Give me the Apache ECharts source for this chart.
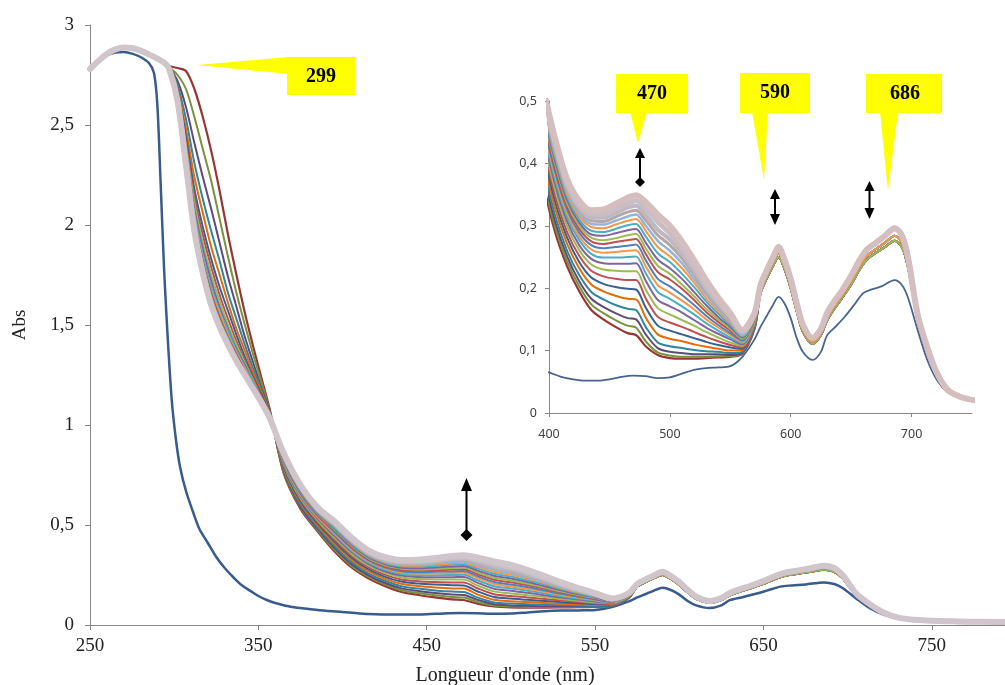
<!DOCTYPE html>
<html><head><meta charset="utf-8">
<script src="https://cdn.jsdelivr.net/npm/echarts@6/dist/echarts.min.js"></script>
<style>html,body{margin:0;padding:0;background:#fff;overflow:hidden}#c{width:1005px;height:685px}</style>
</head><body><div id="c"></div>
<script>
// ---------- data ----------
const mainXTicks = [250, 350, 450, 550, 650, 750];
const insetXTicks = [400, 500, 600, 700];

// initial spectrum (dark blue)
const blueNm = [250,255,260,265,270,275,280,285,288,290,292,294,296,298.5,301,303.5,307,311,315,320,325,330,335,340,345,350,355,360,370,380,390,400,410,420,430,440,450,460,470,480,490,500,510,520,530,540,550,560,570,575,580,585,590,595,600,605,610,618,625,630,638,645,652,660,667,675,686,692,697,705,713,721,730,740,750,770,800];
const blueAbs = [2.78,2.82,2.848,2.862,2.865,2.857,2.84,2.81,2.76,2.6,2.2,1.78,1.46,1.13,0.93,0.79,0.67,0.57,0.48,0.41,0.34,0.285,0.24,0.2,0.172,0.145,0.125,0.11,0.09,0.08,0.071,0.065,0.058,0.054,0.052,0.052,0.054,0.058,0.06,0.059,0.056,0.057,0.063,0.069,0.072,0.073,0.075,0.09,0.118,0.138,0.155,0.172,0.186,0.175,0.152,0.12,0.098,0.085,0.098,0.124,0.14,0.155,0.172,0.192,0.198,0.203,0.213,0.205,0.185,0.133,0.085,0.053,0.033,0.024,0.02,0.016,0.014];

// titration spectra: wavelength segments
const headNm = [250,255,260,265,270,275,280,285,290,294];
const headAbs = [2.78,2.82,2.855,2.878,2.888,2.885,2.872,2.853,2.832,2.812];
const uvNm = [297,302,307,312,317,322,327,332,337,342,347,352,357];
const visNm = [365,375,385,395,405,415,425,435,445,455,465,472,480,490,500,510,520,530,540,550,560,570];
const tailNm = [575,580,585,590,595,600,605,610,618,625,630,635,642,650,657,663,670,678,686,692,697,705,713,721,730,740,750,765,780,800];

// per-spectrum values on uvNm + visNm
const curve00 = [2.795,2.785,2.77,2.68,2.54,2.37,2.17,1.95,1.75,1.56,1.39,1.23,1.07, .76,.58,.47,.37,.29,.235,.195,.165,.15,.138,.128,.125,.107,.093,.088,.087,.087,.088,.089,.090,.095,.135];
const curve01 = [2.79,2.75,2.68,2.54,2.38,2.22,2.03,1.84,1.66,1.50,1.35,1.21,1.06, .765,.586,.476,.378,.298,.243,.203,.174,.160,.149,.140,.137,.115,.097,.092,.090,.090,.090,.091,.091,.096,.135];
const curve02 = [2.79,2.72,2.59,2.41,2.24,2.08,1.91,1.74,1.59,1.44,1.31,1.18,1.06, .771,.593,.483,.387,.307,.251,.211,.183,.170,.160,.152,.150,.126,.104,.098,.096,.094,.094,.094,.093,.097,.136];
const curve03 = [2.79,2.70,2.53,2.31,2.13,1.97,1.82,1.66,1.53,1.40,1.28,1.17,1.05, .778,.602,.492,.397,.317,.260,.221,.194,.182,.173,.167,.165,.138,.113,.107,.104,.101,.099,.098,.096,.098,.137];
const curve04 = [2.79,2.68,2.48,2.24,2.06,1.89,1.75,1.61,1.48,1.37,1.26,1.16,1.05, .785,.611,.501,.408,.328,.271,.232,.206,.195,.188,.183,.182,.153,.126,.119,.115,.110,.106,.103,.100,.101,.139];
const curve05 = [2.78,2.67,2.44,2.18,1.99,1.83,1.69,1.57,1.45,1.34,1.24,1.15,1.04, .793,.619,.509,.419,.339,.281,.242,.217,.207,.202,.199,.198,.169,.140,.132,.126,.120,.114,.109,.105,.103,.140];
const curve06 = [2.78,2.66,2.41,2.14,1.95,1.79,1.65,1.53,1.42,1.32,1.23,1.14,1.04, .799,.627,.517,.429,.349,.290,.252,.228,.219,.215,.213,.213,.184,.154,.145,.138,.130,.122,.115,.109,.105,.142];
const curve07 = [2.78,2.65,2.39,2.11,1.91,1.75,1.62,1.50,1.40,1.31,1.22,1.13,1.04, .806,.635,.525,.438,.358,.299,.261,.238,.230,.228,.227,.227,.198,.168,.158,.149,.140,.130,.121,.113,.108,.143];
const curve08 = [2.78,2.65,2.37,2.08,1.88,1.72,1.59,1.48,1.38,1.30,1.21,1.13,1.04, .811,.642,.532,.447,.367,.307,.269,.247,.240,.239,.239,.240,.212,.181,.171,.161,.149,.137,.127,.118,.110,.145];
const curve09 = [2.78,2.64,2.36,2.06,1.85,1.69,1.57,1.47,1.37,1.29,1.21,1.12,1.04, .816,.648,.538,.455,.375,.314,.277,.255,.249,.249,.250,.251,.224,.194,.183,.171,.158,.144,.132,.121,.112,.146];
const curve10 = [2.78,2.64,2.35,2.04,1.83,1.67,1.56,1.45,1.36,1.28,1.20,1.12,1.03, .821,.653,.543,.461,.381,.320,.283,.262,.257,.258,.260,.261,.235,.205,.193,.180,.166,.150,.137,.125,.114,.147];
const curve11 = [2.78,2.63,2.34,2.02,1.82,1.66,1.54,1.44,1.35,1.27,1.20,1.12,1.03, .825,.658,.548,.467,.387,.326,.289,.269,.264,.266,.268,.270,.245,.215,.203,.189,.173,.156,.141,.128,.116,.149];
const curve12 = [2.78,2.63,2.33,2.01,1.81,1.65,1.53,1.43,1.35,1.27,1.19,1.12,1.03, .829,.663,.553,.473,.393,.331,.295,.275,.271,.274,.277,.279,.255,.226,.214,.199,.181,.162,.146,.132,.118,.150];
const curve13 = [2.78,2.63,2.32,2.00,1.80,1.64,1.52,1.43,1.34,1.26,1.19,1.12,1.03, .832,.667,.557,.479,.399,.336,.300,.281,.277,.280,.285,.287,.264,.236,.223,.206,.187,.167,.150,.135,.119,.151];
const curve14 = [2.78,2.63,2.32,2.00,1.79,1.63,1.51,1.42,1.34,1.26,1.19,1.11,1.03, .836,.671,.561,.484,.404,.341,.305,.286,.284,.288,.293,.295,.273,.246,.232,.215,.194,.173,.154,.138,.121,.152];
const curve15 = [2.78,2.62,2.31,1.99,1.78,1.62,1.51,1.41,1.33,1.26,1.19,1.11,1.03, .840,.675,.565,.489,.409,.346,.310,.292,.290,.295,.301,.303,.283,.256,.242,.223,.202,.179,.159,.141,.123,.153];
const curve16 = [2.78,2.62,2.31,1.98,1.77,1.61,1.50,1.41,1.33,1.26,1.18,1.11,1.03, .843,.680,.570,.495,.415,.351,.315,.298,.296,.302,.308,.311,.292,.266,.251,.232,.209,.184,.163,.144,.124,.154];
const curve17 = [2.78,2.62,2.30,1.98,1.77,1.61,1.50,1.41,1.32,1.25,1.18,1.11,1.03, .846,.683,.573,.499,.419,.356,.320,.303,.302,.308,.315,.318,.300,.276,.260,.240,.215,.190,.167,.147,.126,.155];
const curve18 = [2.78,2.62,2.30,1.97,1.76,1.60,1.49,1.40,1.32,1.25,1.18,1.11,1.03, .849,.687,.577,.504,.424,.360,.325,.308,.307,.314,.322,.325,.309,.285,.269,.248,.222,.195,.171,.150,.128,.156];
const curve19 = [2.78,2.62,2.30,1.97,1.76,1.60,1.49,1.40,1.32,1.25,1.18,1.11,1.03, .852,.691,.581,.509,.429,.364,.329,.313,.313,.320,.329,.332,.317,.294,.278,.255,.228,.200,.175,.153,.129,.157];
const curve20 = [2.78,2.62,2.30,1.97,1.76,1.60,1.49,1.40,1.32,1.25,1.18,1.11,1.03, .856,.695,.585,.514,.434,.369,.334,.319,.319,.327,.336,.340,.327,.306,.288,.265,.236,.206,.180,.156,.131,.159];
const curve21 = [2.78,2.62,2.30,1.97,1.76,1.60,1.49,1.40,1.32,1.25,1.18,1.11,1.03, .86,.70,.59,.52,.44,.375,.34,.325,.326,.335,.345,.349,.338,.318,.30,.275,.245,.213,.185,.16,.133,.16];

// tails (575-800 nm): early, middle and late spectra
const tailLow  = [.192,.215,.234,.250,.230,.200,.163,.131,.111,.125,.148,.164,.183,.206,.230,.246,.256,.266,.276,.266,.234,.148,.097,.059,.034,.024,.020,.017,.015,.014];
const tailMid  = [.197,.220,.240,.256,.236,.206,.168,.135,.114,.128,.152,.168,.187,.211,.235,.252,.262,.273,.284,.273,.240,.152,.100,.061,.035,.025,.020,.017,.015,.014];
const tailHigh = [.205,.228,.248,.266,.245,.215,.176,.142,.120,.135,.160,.176,.195,.220,.245,.262,.272,.284,.296,.285,.250,.158,.105,.064,.037,.026,.021,.018,.016,.015];

// ---------- styles ----------
const curves = [curve00,curve01,curve02,curve03,curve04,curve05,curve06,curve07,curve08,curve09,curve10,curve11,curve12,curve13,curve14,curve15,curve16,curve17,curve18,curve19,curve20,curve21];
const curveTails = [tailLow,tailLow,tailLow,tailLow,tailLow,tailLow,tailLow,tailLow,tailMid,tailMid,tailMid,tailMid,tailMid,tailMid,tailMid,tailMid,tailMid,tailHigh,tailHigh,tailHigh,tailHigh,tailHigh];
const curveColorsMain = ['#953735','#77933C','#604A7B','#31859C','#E46C0A','#376092','#C0504D','#9BBB59','#8064A2','#4BACC6','#F79646','#4F81BD','#C0504D','#9BBB59','#8064A2','#4BACC6','#F79646','#95B3D7','#B4AEB4','#BEB8BE','#C8C1C7','#CFC5CA'];
const curveColorsInset = ['#953735','#77933C','#604A7B','#31859C','#E46C0A','#376092','#C0504D','#9BBB59','#8064A2','#4BACC6','#F79646','#4F81BD','#C0504D','#9BBB59','#8064A2','#4BACC6','#F79646','#95B3D7','#B5A6A8','#C0B8C0','#CABDC3','#D5BEBF'];
const curveWidths = [2.2,2,2,2,2,2,2,2,2,2,2,2,2,2,2,2,2,2.5,3,4,5,6];

const titrNm = headNm.concat(uvNm, visNm, tailNm);
const series = [];
function addLine(xs, ys, color, width, gi) {
  series.push({
    type: 'line', xAxisIndex: gi, yAxisIndex: gi,
    data: xs.map((x, i) => [x, ys[i]]),
    showSymbol: false, symbol: 'none', smooth: 0.3, clip: true, silent: true,
    lineStyle: { color: color, width: width, cap: 'round', join: 'round' }
  });
}
[0, 1].forEach(gi => {
  addLine(blueNm, blueAbs, gi === 0 ? '#375B8C' : '#46648E', gi === 0 ? 2.5 : 1.8, gi);
  const cols = gi === 0 ? curveColorsMain : curveColorsInset;
  curves.forEach((c, k) => {
    addLine(titrNm, headAbs.concat(c, curveTails[k]), cols[k], curveWidths[k], gi);
  });
});

const fmt = v => String(+Number(v).toFixed(2)).replace('.', ',');
const axisGray = '#868686';
const serif = '"Liberation Serif", "Times New Roman", serif';

// ---------- annotations ----------
const yellow = '#FFFF00';
function box(x, y, w, h) { return { type: 'rect', z: 100, shape: { x, y, width: w, height: h }, style: { fill: yellow } }; }
function tri(pts) { return { type: 'polygon', z: 100, shape: { points: pts }, style: { fill: yellow } }; }
function label(t, x, y) { return { type: 'text', z: 101, style: { text: t, x, y, align: 'center', verticalAlign: 'middle', font: 'bold 20px ' + serif, fill: '#000' } }; }
function head(pts) { return { type: 'polygon', z: 102, shape: { points: pts }, style: { fill: '#000' } }; }
function shaft(x, y1, y2) { return { type: 'line', z: 102, shape: { x1: x, y1, x2: x, y2 }, style: { stroke: '#000', lineWidth: 2 } }; }

const graphics = [
  tri([[197, 65], [289, 57], [289, 74]]), box(287, 57, 68, 38), label('299', 321, 77),
  tri([[630, 112], [647, 112], [638, 143]]), box(616, 74, 72, 39), label('470', 652, 94),
  tri([[752, 112], [768, 112], [764, 180]]), box(740, 73, 70, 40), label('590', 775, 93),
  tri([[880, 112], [898, 112], [888, 191]]), box(866, 74, 76, 39), label('686', 905, 94),
  shaft(466.5, 488, 532), head([[466.5, 478], [461, 491], [472, 491]]), head([[466.5, 529], [472.5, 535], [466.5, 541], [460.5, 535]]),
  shaft(640, 156, 178), head([[640, 148], [635, 158], [645, 158]]), head([[640, 177], [645, 182], [640, 187], [635, 182]]),
  shaft(775, 197, 216), head([[775, 189], [770, 199], [780, 199]]), head([[775, 225], [770, 214], [780, 214]]),
  shaft(869.5, 189, 210), head([[869.5, 181], [864.5, 191], [874.5, 191]]), head([[869.5, 219], [864.5, 208], [874.5, 208]]),
  { type: 'text', z: 101, x: 20, y: 325, rotation: Math.PI / 2, style: { text: 'Abs', x: 0, y: 0, align: 'center', verticalAlign: 'middle', font: '19px ' + serif, fill: '#222' } },
  { type: 'text', z: 101, style: { text: "Longueur d'onde (nm)", x: 505, y: 676, align: 'center', verticalAlign: 'middle', font: '20px ' + serif, fill: '#222' } }
];

const option = {
  animation: false,
  backgroundColor: '#fff',
  grid: [
    { left: 90, top: 25, width: 926, height: 600, containLabel: false, outerBoundsMode: 'none' },
    { left: 549, top: 101, width: 423, height: 312, containLabel: false, outerBoundsMode: 'none' }
  ],
  xAxis: [
    { type: 'value', gridIndex: 0, min: 250, max: 800, interval: 100,
      axisLine: { lineStyle: { color: axisGray } },
      axisTick: { show: true, length: 5, lineStyle: { color: axisGray }, customValues: mainXTicks },
      axisLabel: { customValues: mainXTicks, margin: 12, fontFamily: serif, fontSize: 19, color: '#222' },
      splitLine: { show: false } },
    { type: 'value', gridIndex: 1, min: 400, max: 750, interval: 100,
      axisLine: { lineStyle: { color: axisGray } },
      axisTick: { show: true, length: 4, lineStyle: { color: axisGray }, customValues: insetXTicks },
      axisLabel: { customValues: insetXTicks, margin: 15, fontFamily: '"Noto Sans", sans-serif', fontSize: 12.5, color: '#404040' },
      splitLine: { show: false } }
  ],
  yAxis: [
    { type: 'value', gridIndex: 0, min: 0, max: 3, interval: 0.5,
      axisLine: { show: true, lineStyle: { color: axisGray } },
      axisTick: { show: true, length: 5, lineStyle: { color: axisGray } },
      axisLabel: { formatter: fmt, margin: 16, fontFamily: serif, fontSize: 19, color: '#222' },
      splitLine: { show: false } },
    { type: 'value', gridIndex: 1, min: 0, max: 0.5, interval: 0.1,
      axisLine: { show: true, lineStyle: { color: axisGray } },
      axisTick: { show: true, length: 4, lineStyle: { color: axisGray } },
      axisLabel: { formatter: fmt, margin: 12, fontFamily: '"Noto Sans", sans-serif', fontSize: 12.5, color: '#404040' },
      splitLine: { show: false } }
  ],
  series: series,
  graphic: graphics
};
const chart = echarts.init(document.getElementById('c'));
chart.setOption(option);
</script>
</body></html>
